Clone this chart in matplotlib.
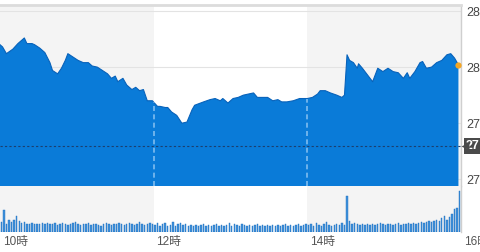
import numpy as np
import matplotlib
matplotlib.use("Agg")
import matplotlib.pyplot as plt
from matplotlib.transforms import ScaledTranslation, blended_transform_factory

plt.rcParams['font.family'] = ['Liberation Sans', 'Noto Sans CJK JP', 'DejaVu Sans']

# intraday price: minutes after 10:00 and price
minutes = [0, 2, 5, 10, 14, 19, 21, 25, 27, 31, 35, 39, 41, 45, 48, 51, 53, 57, 61, 65,
           69, 72, 76, 80, 84, 87, 90, 92, 96, 99, 103, 106, 109, 112, 115, 119, 123, 125,
           129, 131, 134, 138, 142, 146, 150, 152, 159, 164, 168, 172, 174, 178, 182, 186,
           190, 194, 198, 201, 205, 209, 213, 217, 220, 224, 229, 234, 240, 244, 248, 250,
           254, 258, 263, 267, 269, 271, 273, 276, 279, 280, 283, 287, 291, 293, 295, 299,
           303, 307, 311, 315, 318, 320, 324, 328, 330, 333, 337, 341, 345, 349, 352, 355, 358]
prices = [2820, 2818, 2812, 2816, 2821, 2826, 2821, 2821, 2820, 2817, 2813, 2804, 2797, 2794,
          2799, 2806, 2812, 2809, 2806, 2804, 2804, 2801, 2800, 2797, 2794, 2790, 2792, 2787,
          2790, 2784, 2780, 2782, 2779, 2780, 2770, 2770, 2765, 2765, 2764, 2764, 2760, 2757,
          2750, 2751, 2762, 2766, 2769, 2771, 2772, 2770, 2772, 2768, 2772, 2773, 2775, 2776,
          2777, 2773, 2773, 2773, 2770, 2771, 2769, 2769, 2770, 2772, 2772, 2773, 2776, 2779,
          2779, 2777, 2775, 2773, 2775, 2811, 2806, 2804, 2799, 2803, 2799, 2793, 2787, 2793,
          2799, 2796, 2799, 2796, 2795, 2790, 2795, 2790, 2796, 2804, 2805, 2799, 2800, 2804,
          2806, 2811, 2812, 2808, 2802]
prev_close = 2730

# volume per 2-minute bar
volume = [10, 22, 8, 12, 10, 12, 16, 11, 9, 10, 8, 8, 9, 8, 8, 8, 9, 8, 9, 8,
          8, 9, 7, 8, 9, 8, 7, 8, 9, 10, 8, 7, 8, 8, 9, 7, 8, 8, 7, 6,
          8, 9, 8, 7, 8, 8, 9, 8, 7, 8, 9, 8, 7, 8, 10, 8, 7, 8, 9, 8,
          7, 9, 6, 8, 9, 6, 7, 10, 6, 8, 9, 7, 8, 6, 7, 6, 7, 6, 7, 8,
          6, 7, 6, 7, 8, 6, 7, 6, 7, 9, 6, 8, 7, 6, 8, 7, 6, 7, 6, 7,
          8, 6, 7, 6, 7, 6, 7, 6, 7, 6, 7, 8, 6, 7, 6, 7, 8, 6, 7, 8,
          7, 8, 6, 9, 7, 6, 8, 10, 7, 6, 7, 8, 7, 9, 7, 36, 11, 8, 9, 8,
          7, 8, 7, 8, 7, 8, 7, 8, 9, 8, 7, 8, 8, 7, 8, 9, 7, 8, 8, 9,
          8, 9, 8, 9, 10, 9, 10, 11, 10, 11, 12, 11, 14, 16, 12, 15, 18, 23, 24, 41]

# y tick labels are cut by the right edge in the source image; keep the visible part
yticks = [2850, 2800, 2750, 2700]
ylabels = ['28', '28', '27', '27']
prev_label = '27'
xticks = [0, 120, 240, 360]
xlabels = ['10時', '12時', '14時', '16時']

W, H = 480, 252
def rect(x0, y0, x1, y1):
    return [x0 / W, 1 - y1 / H, (x1 - x0) / W, (y1 - y0) / H]

fig = plt.figure(figsize=(4.8, 2.52), dpi=100)
ax = fig.add_axes(rect(0, 5, 461, 186))
axv = fig.add_axes(rect(0, 186, 461, 232))

band = '#f4f4f4'
for a in (ax, axv):
    a.axvspan(0, 120, color=band, lw=0, zorder=0)
    a.axvspan(240, 360, color=band, lw=0, zorder=0)
    a.set_xlim(0, 360)
    for s in ('left', 'bottom', 'top'):
        a.spines[s].set_visible(False)
    a.spines['right'].set_color('#cfcfcf')
    a.spines['right'].set_linewidth(1)

# price panel
ax.set_ylim(2694, 2855.4)
for v in yticks:
    ax.axhline(v, color='#e3e3e3', lw=0.8, zorder=1)
ax.fill_between(minutes, prices, 2600, color='#0a7bd8', lw=0, zorder=2)
ax.plot(minutes, prices, color='#0862ba', lw=0.8, zorder=3)
ax.vlines([120, 240], 2694, np.interp([120, 240], minutes, prices),
          colors='#7fbcf0', linestyles=(0, (3, 2)), lw=1.2, zorder=3)
ax.axhline(prev_close, color='#1c3f6e', ls=(0, (2, 2)), lw=0.8, zorder=4)
ax.plot(minutes[-1], prices[-1], 'o', ms=4.5, color='#f5a623', mec='none', zorder=5, clip_on=False)
ax.spines['top'].set_visible(True)
ax.spines['top'].set_color('#dcdcdc')
ax.spines['top'].set_linewidth(2)

ax.set_xticks([])
ax.yaxis.tick_right()
ax.set_yticks(yticks)
ax.set_yticklabels(ylabels)
ax.tick_params(axis='y', length=0, pad=4, labelsize=9, labelcolor='#444444')

tr = blended_transform_factory(ax.transAxes, ax.transData)
ax.plot([1.0], [prev_close], marker='<', ms=6, color='#4a4a4a', mec='none',
        transform=tr + ScaledTranslation(3 / 72, 0, fig.dpi_scale_trans), clip_on=False, zorder=6)
ax.annotate(prev_label, xy=(1, prev_close), xycoords=tr, xytext=(5, 0),
            textcoords='offset pixels', ha='left', va='center', color='white',
            fontweight='bold', fontsize=9, annotation_clip=False,
            bbox=dict(boxstyle='square,pad=0.15', fc='#4a4a4a', ec='none'))

# volume panel
bar_x = [2 * i + 1 for i in range(len(volume))]
axv.bar(bar_x, volume, width=1.1, color='#3f92db', edgecolor='#1f6fc0', lw=0.3, zorder=2)
axv.set_ylim(0, 46)
axv.set_yticks([])
axv.set_xticks(xticks)
axv.set_xticklabels(xlabels, ha='left')
axv.tick_params(axis='x', length=0, pad=3, labelsize=8.5, labelcolor='#555555')
for lbl in axv.get_xticklabels():
    lbl.set_transform(lbl.get_transform() + ScaledTranslation(2 / 72, 0, fig.dpi_scale_trans))

plt.savefig('out.png', dpi=100)
